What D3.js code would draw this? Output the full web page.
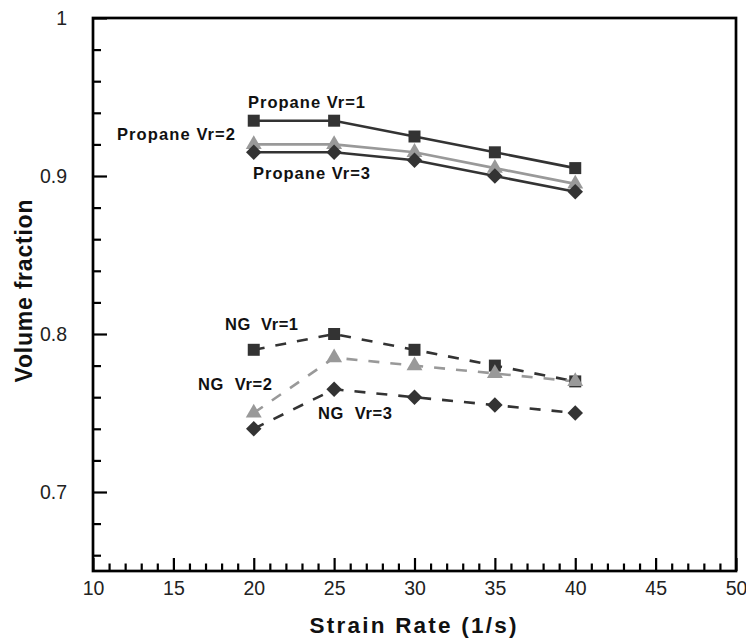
<!DOCTYPE html>
<html><head><meta charset="utf-8">
<script src="https://cdn.jsdelivr.net/npm/d3@7"></script>
<style>body{margin:0;background:#fff}svg{display:block}</style>
</head><body>
<svg id="c" width="746" height="638"></svg>
<script>
const strainRates = [20, 25, 30, 35, 40];
const propaneVr1 = [0.935, 0.935, 0.925, 0.915, 0.905];
const propaneVr2 = [0.92, 0.92, 0.915, 0.905, 0.895];
const propaneVr3 = [0.915, 0.915, 0.91, 0.90, 0.89];
const ngVr1 = [0.79, 0.80, 0.79, 0.78, 0.77];
const ngVr2 = [0.75, 0.785, 0.78, 0.775, 0.77];
const ngVr3 = [0.74, 0.765, 0.76, 0.755, 0.75];
const xTicks = [10, 15, 20, 25, 30, 35, 40, 45, 50];
const yTicks = [0.7, 0.8, 0.9, 1];
const yTickLabels = ["0.7", "0.8", "0.9", "1"];

const svg = d3.select("#c");
const L = 93, R = 736, T = 18, B = 571;
const x = d3.scaleLinear().domain([10, 50]).range([L, R]);
const y = d3.scaleLinear().domain([0.65, 1]).range([B, T]);

const dark = "#333", gray = "#999";

// frame
svg.append("rect").attr("x", L).attr("y", T).attr("width", R - L).attr("height", B - T)
  .attr("fill", "none").attr("stroke", "#000").attr("stroke-width", 2.7);

// x axis ticks (inward)
const xMinor = d3.range(11, 50).filter(v => v % 5 !== 0);
const xAxisMinor = d3.axisBottom(x).tickValues(xMinor).tickSize(-7.5).tickFormat("");
const xAxisMajor = d3.axisBottom(x).tickValues(xTicks).tickSize(-13).tickPadding(24).tickFormat(d3.format("d"));
const gxm = svg.append("g").attr("transform", `translate(0,${B})`).call(xAxisMinor);
const gx = svg.append("g").attr("transform", `translate(0,${B})`).call(xAxisMajor);
[gxm, gx].forEach(g => { g.select(".domain").remove(); g.selectAll("line").attr("stroke", "#000").attr("stroke-width", 2.2); });
gx.selectAll("text").attr("font-family", "Liberation Sans, Arial, sans-serif").attr("font-size", 19.5).attr("fill", "#222").attr("dy", 0);

// y axis ticks
const yMinor = d3.range(0.66, 1.0, 0.02).map(v => +v.toFixed(2)).filter(v => Math.abs(v * 10 - Math.round(v * 10)) > 1e-6);
const yAxisMinor = d3.axisLeft(y).tickValues(yMinor).tickSize(-8).tickFormat("");
const yAxisMajor = d3.axisLeft(y).tickValues(yTicks).tickSize(-14).tickPadding(26).tickFormat((d, i) => yTickLabels[i]);
const gym = svg.append("g").attr("transform", `translate(${L},0)`).call(yAxisMinor);
const gy = svg.append("g").attr("transform", `translate(${L},0)`).call(yAxisMajor);
[gym, gy].forEach(g => { g.select(".domain").remove(); g.selectAll("line").attr("stroke", "#000").attr("stroke-width", 2.2); });
gy.selectAll("text").attr("font-family", "Liberation Sans, Arial, sans-serif").attr("font-size", 19.5).attr("fill", "#222");

// titles
svg.append("text").attr("x", 413).attr("y", 633).attr("text-anchor", "middle")
  .attr("font-family", "Liberation Sans, Arial, sans-serif").attr("font-weight", "bold").attr("font-size", 22.5)
  .attr("textLength", 207).attr("lengthAdjust", "spacing").attr("fill", "#111").text("Strain Rate (1/s)");
svg.append("text").attr("transform", "translate(32,291) rotate(-90)").attr("text-anchor", "middle")
  .attr("font-family", "Liberation Sans, Arial, sans-serif").attr("font-weight", "bold").attr("font-size", 23)
  .attr("textLength", 183).attr("lengthAdjust", "spacing").attr("fill", "#111").text("Volume fraction");

// series
const series = [
  {vals: propaneVr1, color: dark, shape: "square", dash: null},
  {vals: propaneVr2, color: gray, shape: "triangle", dash: null},
  {vals: propaneVr3, color: dark, shape: "diamond", dash: null},
  {vals: ngVr1, color: dark, shape: "square", dash: "11,11"},
  {vals: ngVr2, color: gray, shape: "triangle", dash: "11,11"},
  {vals: ngVr3, color: dark, shape: "diamond", dash: "11,11"}
];
const line = d3.line().x((d, i) => x(strainRates[i])).y(d => y(d));
series.forEach(s => {
  svg.append("path").datum(s.vals).attr("d", line).attr("fill", "none")
    .attr("stroke", s.color).attr("stroke-width", 2.6)
    .attr("stroke-dasharray", s.dash);
});
series.forEach(s => {
  const sym = s.shape === "triangle" ? d3.symbol(d3.symbolTriangle, 110) : d3.symbol(d3.symbolSquare, s.shape === "square" ? 144 : 120);
  svg.append("g").selectAll("path").data(s.vals).join("path")
    .attr("d", sym)
    .attr("transform", (d, i) => `translate(${x(strainRates[i])},${y(d)})` + (s.shape === "diamond" ? " rotate(45)" : ""))
    .attr("fill", s.color);
});

// labels
const labels = [
  {t: "Propane Vr=1", x: 248, y: 108, w: 117},
  {t: "Propane Vr=2", x: 117, y: 140, w: 118},
  {t: "Propane Vr=3", x: 253, y: 179, w: 117},
  {t: "NG  Vr=1", x: 225, y: 330, w: 73},
  {t: "NG  Vr=2", x: 198, y: 390, w: 74},
  {t: "NG  Vr=3", x: 318, y: 419, w: 74}
];
svg.append("g").selectAll("text").data(labels).join("text")
  .attr("x", d => d.x).attr("y", d => d.y)
  .attr("font-family", "Liberation Sans, Arial, sans-serif").attr("font-weight", "bold").attr("font-size", 16.5)
  .attr("textLength", d => d.w).attr("lengthAdjust", "spacing")
  .attr("fill", "#111").attr("xml:space", "preserve").style("white-space", "pre").text(d => d.t);
</script>
</body></html>
